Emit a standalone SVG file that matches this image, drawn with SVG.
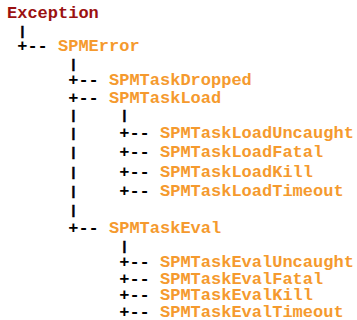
<svg xmlns="http://www.w3.org/2000/svg" width="357" height="320" viewBox="0 0 357 320">
  <style>
    text { font-family: "Liberation Mono", "Courier New", monospace; font-size: 17px; font-weight: bold; }
    .root { fill: #9b1111; }
    .cls { fill: #f59a2e; }
    .tree { fill: #000000; }
    .bar { font-size: 13px; text-anchor: middle; stroke: #000000; stroke-width: 0.6; }
  </style>
  <rect width="357" height="320" fill="#ffffff"/>

  <!-- tree connectors: vertical bars and branch ticks -->
  <g id="connectors" class="tree">
    <text class="bar" x="22.3" y="34.5">|</text>
    <text x="17.2" y="51">+--</text>
    <text class="bar" x="73.3" y="68">|</text>
    <text x="68.2" y="85">+--</text>
    <text x="68.2" y="103">+--</text>
    <text class="bar" x="73.3" y="119">|</text>
    <text class="bar" x="124.3" y="119">|</text>
    <text class="bar" x="73.3" y="137">|</text>
    <text x="119.2" y="138">+--</text>
    <text class="bar" x="73.3" y="156">|</text>
    <text x="119.2" y="157">+--</text>
    <text class="bar" x="73.3" y="176">|</text>
    <text x="119.2" y="177">+--</text>
    <text class="bar" x="73.3" y="195">|</text>
    <text x="119.2" y="196">+--</text>
    <text class="bar" x="73.3" y="214">|</text>
    <text x="68.2" y="233">+--</text>
    <text class="bar" x="124.3" y="250">|</text>
    <text x="119.2" y="266.5">+--</text>
    <text x="119.2" y="283.5">+--</text>
    <text x="119.2" y="300">+--</text>
    <text x="119.2" y="316.5">+--</text>
  </g>

  <g id="Exception"><text class="root" x="7" y="18">Exception</text></g>
  <g id="SPMError"><text class="cls" x="58" y="51">SPMError</text></g>
  <g id="SPMTaskDropped"><text class="cls" x="109" y="85">SPMTaskDropped</text></g>
  <g id="SPMTaskLoad"><text class="cls" x="109" y="103">SPMTaskLoad</text></g>
  <g id="SPMTaskLoadUncaught"><text class="cls" x="160" y="138">SPMTaskLoadUncaught</text></g>
  <g id="SPMTaskLoadFatal"><text class="cls" x="160" y="157">SPMTaskLoadFatal</text></g>
  <g id="SPMTaskLoadKill"><text class="cls" x="160" y="177">SPMTaskLoadKill</text></g>
  <g id="SPMTaskLoadTimeout"><text class="cls" x="160" y="196">SPMTaskLoadTimeout</text></g>
  <g id="SPMTaskEval"><text class="cls" x="109" y="233">SPMTaskEval</text></g>
  <g id="SPMTaskEvalUncaught"><text class="cls" x="160" y="266.5">SPMTaskEvalUncaught</text></g>
  <g id="SPMTaskEvalFatal"><text class="cls" x="160" y="283.5">SPMTaskEvalFatal</text></g>
  <g id="SPMTaskEvalKill"><text class="cls" x="160" y="300">SPMTaskEvalKill</text></g>
  <g id="SPMTaskEvalTimeout"><text class="cls" x="160" y="316.5">SPMTaskEvalTimeout</text></g>
</svg>
